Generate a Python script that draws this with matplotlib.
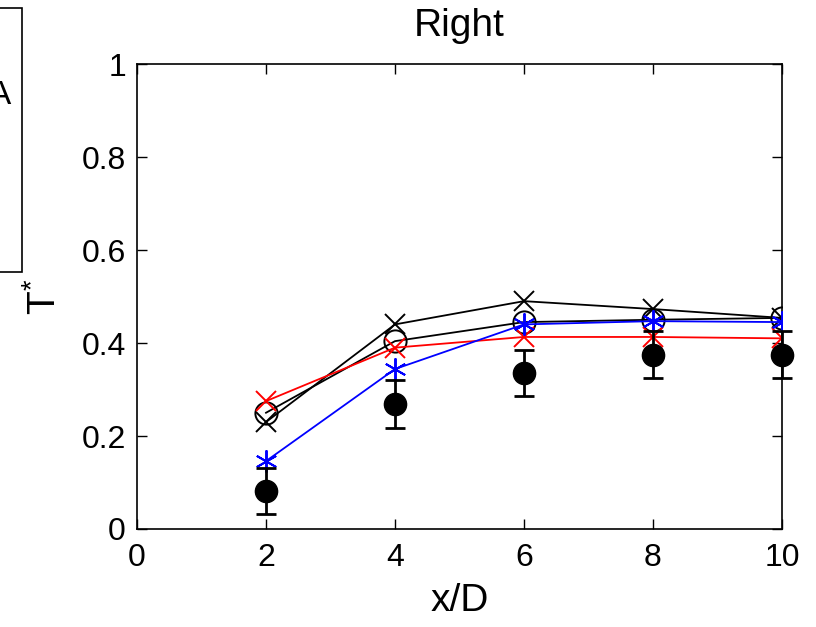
import matplotlib
matplotlib.use("Agg")
import matplotlib.pyplot as plt
from matplotlib.patches import Rectangle

plt.rcParams['font.family'] = ['Liberation Sans', 'DejaVu Sans']
plt.rcParams['mathtext.fontset'] = 'custom'
plt.rcParams['mathtext.rm'] = 'Liberation Sans'
plt.rcParams['mathtext.it'] = 'Liberation Sans'

x = [2, 4, 6, 8, 10]
black_x = [0.23, 0.44, 0.49, 0.473, 0.454]
black_o = [0.25, 0.404, 0.445, 0.45, 0.454]
red_x = [0.275, 0.39, 0.413, 0.413, 0.41]
blue_star = [0.146, 0.344, 0.44, 0.447, 0.445]
exp_mean = [0.082, 0.269, 0.336, 0.375, 0.375]
exp_err = [0.05, 0.052, 0.05, 0.05, 0.05]

xticks = [0, 2, 4, 6, 8, 10]
yticks = [0, 0.2, 0.4, 0.6, 0.8, 1]
ytick_labels = ['0', '0.2', '0.4', '0.6', '0.8', '1']

fig = plt.figure(figsize=(8.16, 6.27), dpi=100)
ax = fig.add_axes([0.1679, 0.1563, 0.7904, 0.7416])

ax.plot(x, black_x, color='black', lw=1.3, marker='x', ms=14, mew=1.4, zorder=3)
ax.plot(x, black_o, color='black', lw=1.3, marker='o', ms=16, mfc='none', mew=1.4, zorder=3)
ax.plot(x, red_x, color='red', lw=1.3, marker='x', ms=14, mew=1.4, zorder=4)
ax.plot(x, blue_star, color='blue', lw=1.3, marker=(6, 2, 0), ms=16, mew=1.4, zorder=5)
ax.errorbar(x, exp_mean, yerr=exp_err, fmt='o', color='black', ms=16,
            ecolor='black', elinewidth=2, capsize=7, capthick=2, zorder=6, clip_on=False)

ax.set_xlim(0, 10)
ax.set_ylim(0, 1)
ax.set_xticks(xticks)
ax.set_xticklabels([str(t) for t in xticks])
ax.set_yticks(yticks)
ax.set_yticklabels(ytick_labels)
ax.tick_params(direction='in', length=7, width=1, labelsize=23, top=True, right=True)
ax.tick_params(axis='x', pad=10)
ax.tick_params(axis='y', pad=8)
for s in ax.spines.values():
    s.set_linewidth(1.2)

ax.set_title('Right', fontsize=28, pad=20)
ax.set_xlabel('x/D', fontsize=28, labelpad=7)
ax.set_ylabel(r'$\mathregular{T^{*}}$', fontsize=28, labelpad=13)

# partially visible neighbouring legend box at left edge
fig.patches.append(Rectangle((-0.02, 1 - 272 / 627), 0.02 + 22 / 816, (272 - 8) / 627,
                             transform=fig.transFigure, fill=False, edgecolor='black', lw=1.2))
fig.text(-0.014, 1 - 95 / 627, 'A', fontsize=24, ha='left', va='center')

fig.savefig('out.png', dpi=100)
